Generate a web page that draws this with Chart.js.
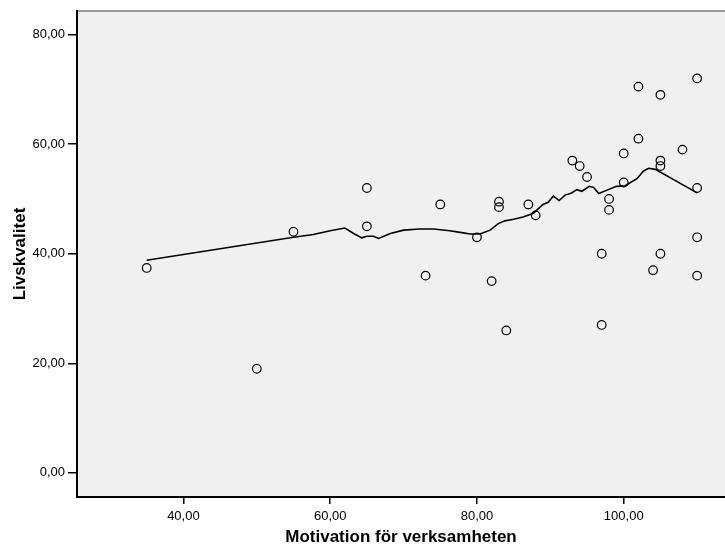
<!DOCTYPE html>
<html>
<head>
<meta charset="utf-8">
<script src="https://cdn.jsdelivr.net/npm/chart.js@4.4.0/dist/chart.umd.min.js"></script>
<style>
  html, body { margin: 0; padding: 0; background: #fff; }
  #wrap { width: 725px; height: 546px; }
</style>
</head>
<body>
<div id="wrap"><canvas id="scatterChart" width="725" height="546"></canvas></div>
<script>
// observed cases
const motivation = [35, 50, 55, 65, 65, 73, 75, 80, 82, 83, 83, 84, 87, 88, 93, 94, 95, 97, 97, 98, 98,
                    100, 100, 102, 102, 104, 105, 105, 105, 105, 108, 110, 110, 110, 110];
const livskvalitet = [37.4, 19, 44, 52, 45, 36, 49, 43, 35, 49.5, 48.5, 26, 49, 47, 57, 56, 54, 40, 27, 50, 48,
                      58.3, 53, 70.5, 61, 37, 69, 57, 56, 40, 59, 72, 52, 43, 36];

// loess fit line
const fitX = [35, 45, 55, 57.7, 60, 62, 63.2, 64.3, 65, 65.9, 66.6, 68.2, 70, 72.2, 74.1, 76.3, 77.7, 79.1,
              80.4, 81.8, 82.9, 83.8, 85, 86.3, 87.7, 89, 89.7, 90.4, 91.2, 92, 92.9, 93.6, 94.3, 95.3,
              95.9, 96.6, 97.9, 99, 100.2, 101.8, 102.7, 103.4, 104.3, 110];
const fitY = [38.8, 40.9, 43.0, 43.5, 44.2, 44.7, 43.7, 42.9, 43.2, 43.2, 42.8, 43.7, 44.3, 44.5, 44.5, 44.2,
              43.9, 43.6, 43.6, 44.3, 45.5, 46.0, 46.3, 46.7, 47.4, 49.0, 49.4, 50.5, 49.7, 50.7, 51.1, 51.7,
              51.4, 52.3, 52.1, 51.0, 51.7, 52.3, 52.4, 53.7, 55.1, 55.6, 55.4, 51.1];

const xTicks = [40, 60, 80, 100];
const yTicks = [0, 20, 40, 60, 80];

Chart.defaults.font.family = 'Arial, "Liberation Sans", sans-serif';
Chart.defaults.color = '#000';

const points = motivation.map((m, i) => ({ x: m, y: livskvalitet[i] }));
const fit = fitX.map((m, i) => ({ x: m, y: fitY[i] }));

function fmt(v) {
  return v.toFixed(2).replace('.', ',');
}

// grey plot background + thin grey top frame like SPSS
const plotFrame = {
  id: 'plotFrame',
  beforeDraw(chart) {
    const a = chart.chartArea;
    const c = chart.ctx;
    c.save();
    c.fillStyle = '#f0f0f0';
    c.fillRect(a.left, a.top, a.right - a.left, a.bottom - a.top);
    c.strokeStyle = '#7a7a7a';
    c.lineWidth = 1.5;
    c.beginPath();
    c.moveTo(a.left, a.top);
    c.lineTo(a.right, a.top);
    c.stroke();
    c.restore();
  }
};

new Chart(document.getElementById('scatterChart'), {
  type: 'scatter',
  data: {
    datasets: [
      {
        type: 'line',
        data: fit,
        borderColor: '#000',
        borderWidth: 1.6,
        pointRadius: 0,
        fill: false,
        tension: 0
      },
      {
        data: points,
        pointRadius: 4.3,
        pointBorderWidth: 1.2,
        pointBorderColor: '#000',
        pointBackgroundColor: 'rgba(0,0,0,0)'
      }
    ]
  },
  options: {
    responsive: false,
    animation: false,
    layout: { autoPadding: false, padding: { top: 11, right: 0, left: 0, bottom: 0 } },
    plugins: {
      legend: { display: false },
      tooltip: { enabled: false }
    },
    scales: {
      x: {
        type: 'linear',
        min: 25.5,
        max: 113.8,
        afterBuildTicks: (axis) => { axis.ticks = xTicks.map(v => ({ value: v })); },
        afterFit: (axis) => {
          axis.height = 49;
          axis.paddingLeft = 0;
          axis.paddingRight = 0;
        },
        ticks: { callback: fmt, font: { size: 13 }, padding: 5, maxRotation: 0 },
        grid: { drawOnChartArea: false, drawTicks: true, tickLength: 7, color: '#000', lineWidth: 1.5 },
        border: { display: true, color: '#000', width: 2 },
        title: {
          display: true,
          text: 'Motivation för verksamheten',
          font: { size: 17, weight: 'bold', lineHeight: 1 },
          padding: { top: 0, bottom: 0 }
        }
      },
      y: {
        type: 'linear',
        min: -4.4,
        max: 84.3,
        afterBuildTicks: (axis) => { axis.ticks = yTicks.map(v => ({ value: v })); },
        afterFit: (axis) => {
          axis.width = 77;
          axis.paddingTop = 0;
          axis.paddingBottom = 0;
        },
        ticks: { callback: fmt, font: { size: 13 }, padding: 3 },
        grid: { drawOnChartArea: false, drawTicks: true, tickLength: 9, color: '#000', lineWidth: 1.5 },
        border: { display: true, color: '#000', width: 2 },
        title: {
          display: true,
          text: 'Livskvalitet',
          font: { size: 17, weight: 'bold', lineHeight: 1 },
          padding: { top: 12, bottom: 0 }
        }
      }
    }
  },
  plugins: [plotFrame]
});
</script>
</body>
</html>
